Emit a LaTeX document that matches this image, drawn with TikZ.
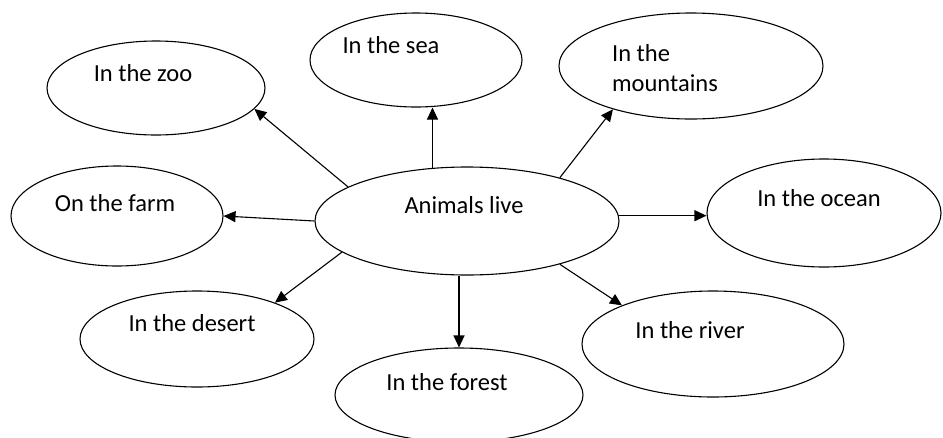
\documentclass[tikz,border=0pt]{standalone}
\usepackage{fontspec}
\setmainfont{Carlito}
\usepackage{tikz}
\usetikzlibrary{arrows.meta,shapes.geometric,calc}
\tikzstyle{habitat}=[draw, ellipse, line width=1.1pt, inner sep=0pt]
\tikzstyle{line} = [draw, line width=1.1pt, -{Triangle[length=12pt,width=11pt]}]
\tikzset{every label/.style={align=left, inner sep=0pt,
font=\fontsize{24.5pt}{30pt}\selectfont}}
\newcommand{\habitat}[5]{node (#1)[habitat, minimum width=#2, minimum height=#3,
label={[shift={#4}]center:#5}]{}}

\begin{document}
\begin{tikzpicture}[x=1pt,y=-1pt]
	\clip (0,0) rectangle (943,437);
	
	% Draw diagram elements
	\path (467,221) \habitat{hub}{304}{108}{(-3,-16)}{Animals live};
	\path (156,88) \habitat{zoo}{218}{94}{(-13,-15)}{In the zoo};
	\path (416,60) \habitat{sea}{212}{94}{(-25,-15)}{In the sea};
	\path (691,66) \habitat{mount}{264}{106}{(-26,2)}{In the\\mountains};
	\path (117,216) \habitat{farm}{212}{100}{(-2,-13)}{On the farm};
	\path (824,213) \habitat{ocean}{234}{108}{(-5,-15)}{In the ocean};
	\path (197,339) \habitat{desert}{234}{96}{(-5,-16)}{In the desert};
	\path (459,395) \habitat{forest}{248}{94}{(-12,-13)}{In the forest};
	\path (713,344) \habitat{river}{262}{106}{(-23,-14)}{In the river};
	
	% Draw arrows between elements
	\path [line] (hub.164) -- (zoo.-12);
	\path [line] (hub.123) -- (hub.123 |- sea.south);
	\path [line] (hub.25) -- (mount.-151);
	\path [line] (hub.west) -- (farm.east);
	\path [line] (hub.2) -- (hub.2 -| ocean.west);
	\path [line] (hub.-166) -- (desert.25);
	\path [line] (forest.north |- hub.south) -- (forest.north);
	\path [line] (hub.-25) -- (river.157);
	
\end{tikzpicture}
\end{document}
